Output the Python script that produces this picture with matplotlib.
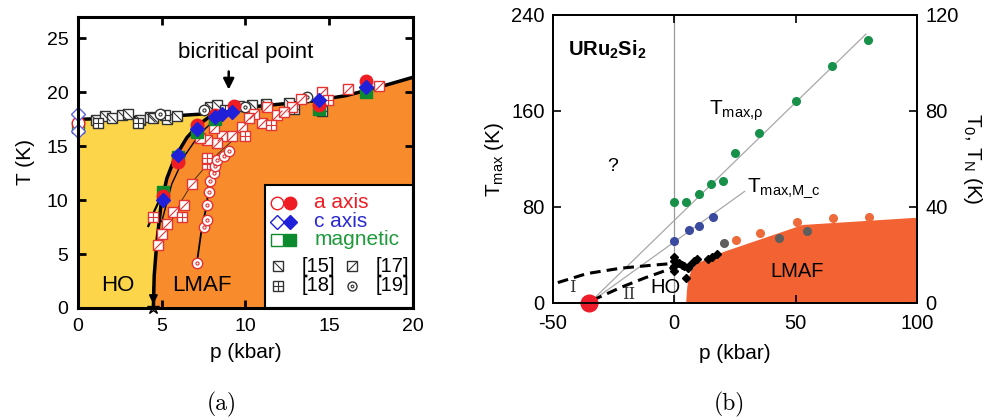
import numpy as np
import matplotlib.pyplot as plt
from matplotlib.patches import Rectangle

plt.rcParams['font.family'] = 'Liberation Sans'
plt.rcParams['mathtext.fontset'] = 'custom'
plt.rcParams['mathtext.rm'] = 'Liberation Sans'
plt.rcParams['mathtext.it'] = 'Liberation Sans:italic'
plt.rcParams['mathtext.bf'] = 'Liberation Sans:bold'
plt.rcParams['mathtext.default'] = 'regular'
plt.rcParams['axes.unicode_minus'] = False

# ---------------- panel (a) data ----------------
# phase boundaries
ho_line_p = [0, 2, 4, 6, 7.5, 8.5]
ho_line_T = [17.5, 17.6, 17.7, 17.85, 18.0, 18.3]
bound_p = [4.5, 4.55, 4.7, 4.95, 5.3, 5.8, 6.5, 7.2, 7.9, 8.5]
bound_T = [0, 3, 6, 9.5, 12, 14, 15.8, 17.0, 17.8, 18.3]
af_line_p = [8.5, 10, 12, 14, 16, 18, 20]
af_line_T = [18.3, 18.6, 18.9, 19.2, 19.7, 20.5, 21.4]
# extra guide curves
left_p = [4.2, 4.5, 4.8, 5.1]
left_T = [7.6, 8.8, 9.8, 10.6]
right_p = [5.0, 5.6, 6.4, 7.3, 8.2, 9.0]
right_T = [8.0, 11.5, 14.2, 16.2, 17.5, 18.3]
thin_p = [5.0, 5.5, 6.2, 7.0, 8.0, 9.2]
thin_T = [6.0, 7.8, 10.0, 12.0, 13.8, 15.5]
circ_p = [7.1, 7.4, 7.7, 7.8, 8.1, 8.6, 9.1]
circ_T = [4.2, 7.5, 9.6, 11.8, 13.2, 14.2, 14.8]

# literature points
r15_p = [1.1, 1.6, 2.0, 2.6, 3.0, 3.7, 4.3, 4.5, 5.3, 5.9, 7.9, 8.3, 9.6, 10.4, 11.2, 12.6, 14.5]
r15_T = [17.4, 17.8, 17.6, 17.9, 18.0, 17.4, 17.7, 17.6, 17.5, 17.8, 18.6, 18.8, 18.7, 18.8, 18.9, 19.0, 18.4]
r18k_p = [1.2, 3.6, 5.2, 8.8, 12.9, 14.6]
r18k_T = [17.2, 17.2, 17.9, 18.4, 18.5, 18.3]
r19k_p = [4.9, 7.5, 10.0, 13.7]
r19k_T = [18.0, 18.4, 18.6, 19.6]
r17_p = [14.6, 16.1, 18.0, 13.3, 12.8, 11.9, 11.3, 11.0, 10.5, 9.8, 9.2, 8.6, 8.3, 7.7, 7.3,
         8.1, 6.8, 6.3, 5.7, 5.3, 5.0, 4.8, 5.9, 10.2, 12.3]
r17_T = [20.0, 20.3, 20.6, 19.4, 18.6, 17.9, 18.6, 17.2, 18.0, 16.8, 16.0, 16.0, 15.3, 15.6, 15.8,
         16.7, 11.5, 9.6, 8.9, 7.8, 6.9, 5.8, 13.6, 17.6, 18.2]
r18_p = [4.5, 6.2, 7.7, 7.7, 10.0, 14.9, 11.5]
r18_T = [8.4, 8.4, 13.4, 13.9, 16.0, 19.3, 17.0]
r19_p = [7.1, 7.5, 7.7, 7.7, 7.8, 7.9, 8.1, 8.2, 8.3, 8.7, 9.0]
r19_T = [4.2, 7.5, 8.2, 9.6, 10.8, 11.8, 12.5, 13.2, 13.7, 14.1, 14.6]

a_fill_p = [5.1, 6.0, 7.1, 8.2, 9.3, 14.4, 17.2]
a_fill_T = [10.4, 13.5, 17.0, 17.9, 18.7, 18.8, 21.1]
a_open_p, a_open_T = [0], [17.2]
c_fill_p = [5.1, 6.0, 7.1, 8.2, 8.6, 9.2, 14.4, 17.2]
c_fill_T = [10.0, 14.2, 16.6, 17.7, 18.0, 18.2, 19.3, 20.5]
c_open_p, c_open_T = [0, 0], [18.0, 16.4]
m_fill_p = [5.1, 6.0, 7.1, 8.2, 14.4, 17.2]
m_fill_T = [10.8, 14.0, 16.3, 17.5, 18.5, 20.0]
m_open_p, m_open_T = [0], [16.8]

# ---------------- panel (b) data ----------------
rho_p = [0, 5, 10, 15, 20, 25, 35, 50, 65, 80]
rho_T = [84, 84, 91, 99, 102, 125, 142, 168, 197, 219]
mc_p = [0, 6, 10, 16]
mc_T = [52, 61, 64, 72]
orn_p = [25.4, 35.3, 50.5, 65.4, 80.2]
orn_T = [52.5, 58, 67.5, 70.5, 72]
gry_p = [20.5, 43.2, 54.6]
gry_T = [50, 54, 60]
t0_p = [0, 0, 0, 0, 1, 2, 3, 4, 5, 5.5, 6.5, 8, 9.5, 14, 15.5, 17.5]
t0_T = [38, 35, 31, 27, 33, 33, 32, 31, 21, 29, 32, 35, 37, 37, 38, 41]
fit_rho_p, fit_rho_T = [-35, 79], [0, 224]
fit_mc_p, fit_mc_T = [-35, 29], [0, 93]
dash1_p = [-48, -36, -22, -9, 0]
dash1_T = [17, 24.5, 29, 31.5, 33]
dash2_p = [-34, -22, -12, -5, 0]
dash2_T = [2, 13, 21, 26, 30]
lmaf_p = [4.9, 5.2, 5.7, 7, 9.3, 13, 16, 21, 53, 100]
lmaf_T = [0, 10, 19, 27, 33, 36, 39, 43, 65, 71]
qcp_p, qcp_T = [-35], [0]

HO_YEL = '#FDD54B'
AF_OR = '#F88B2C'
LMAF_B = '#F26232'
RED = '#F01C24'
BLUE = '#2020D8'
GREEN = '#0E8A2E'
HRED = '#E23434'

DIAG_DN = [(-1, 1), (1, -1)]
DIAG_UP = [(-1, -1), (1, 1)]


def marks(ax, p, T, kind, ec, ms=7, z=4, **kw):
    base = 'o' if kind == 'dot' else 's'
    ax.plot(p, T, ls='none', marker=base, ms=ms, mfc='white', mec=ec, mew=1.0, zorder=z, **kw)
    if kind == 'dot':
        ax.plot(p, T, ls='none', marker='o', ms=ms * 0.3, mfc='none', mec=ec, mew=0.8, zorder=z, **kw)
    else:
        inner = {'bs': DIAG_DN, 'fs': DIAG_UP, 'grid': '+'}[kind]
        ax.plot(p, T, ls='none', marker=inner, ms=ms, mfc='none', mec=ec, mew=0.8, zorder=z, **kw)


fig = plt.figure(figsize=(9.85, 4.17), dpi=100)
axa = fig.add_axes([0.0792, 0.2614, 0.340, 0.698])
axb = fig.add_axes([0.5614, 0.2734, 0.3695, 0.691])

# ---------------- panel (a) ----------------
axa.fill([0] + bound_p + ho_line_p[::-1], [0] + bound_T + ho_line_T[::-1], color=HO_YEL, lw=0, zorder=0)
axa.fill(bound_p + af_line_p + [20], bound_T + af_line_T + [0], color=AF_OR, lw=0, zorder=0)
axa.plot(ho_line_p, ho_line_T, color='k', lw=2.5, zorder=2)
axa.plot(af_line_p, af_line_T, color='k', lw=2.5, zorder=2)
axa.plot(bound_p, bound_T, color='k', lw=2.5, zorder=2)
axa.plot(left_p, left_T, color='k', lw=1.6, zorder=2)
axa.plot(right_p, right_T, color='k', lw=1.0, zorder=2)
axa.plot(thin_p, thin_T, color='#4a3010', lw=0.7, zorder=2)
axa.plot(circ_p, circ_T, color='k', lw=1.3, zorder=2)

marks(axa, r15_p, r15_T, 'bs', '#333333')
marks(axa, r18k_p, r18k_T, 'grid', '#333333')
marks(axa, r19k_p, r19k_T, 'dot', '#333333', ms=7.5)
marks(axa, r17_p, r17_T, 'fs', HRED)
marks(axa, r18_p, r18_T, 'grid', HRED)
marks(axa, r19_p, r19_T, 'dot', HRED, ms=7.5)

axa.plot(m_fill_p, m_fill_T, 's', ms=8, color=GREEN, zorder=5)
axa.plot(a_fill_p, a_fill_T, 'o', ms=9, color=RED, zorder=6)
axa.plot(c_fill_p, c_fill_T, 'D', ms=7, color=BLUE, zorder=7)
axa.plot(m_open_p, m_open_T, 's', ms=8, mfc='white', mec=GREEN, mew=1, zorder=5, clip_on=False)
axa.plot(a_open_p, a_open_T, 'o', ms=9, mfc='white', mec=RED, mew=1, zorder=6, clip_on=False)
axa.plot(c_open_p, c_open_T, 'D', ms=7, mfc='white', mec='#6060E0', mew=1, zorder=7, clip_on=False)

axa.annotate('', xy=(9.0, 20.0), xytext=(9.0, 22.2),
             arrowprops=dict(arrowstyle='-|>', color='k', lw=1.8, mutation_scale=16))
axa.text(10.0, 23.7, 'bicritical point', ha='center', va='center', fontsize=16)
axa.annotate('', xy=(4.5, 0.1), xytext=(4.5, 2.2),
             arrowprops=dict(arrowstyle='-|>', color='k', lw=1.5, mutation_scale=12))
axa.plot([4.5], [0], marker='*', ms=9, mfc='none', mec='k', mew=1, clip_on=False, zorder=8)
axa.text(2.4, 2.1, 'HO', ha='center', va='center', fontsize=16)
axa.text(7.4, 2.1, 'LMAF', ha='center', va='center', fontsize=16)

# hand-built legend box
axa.add_patch(Rectangle((0.558, 0), 0.442, 0.423, transform=axa.transAxes,
                        fc='white', ec='k', lw=1.5, zorder=9))
tr = dict(transform=axa.transAxes, clip_on=False, zorder=10)
rows = [(0.361, 'o', 9, RED, 'a axis', RED),
        (0.296, 'D', 7, BLUE, 'c axis', '#2A2AD0'),
        (0.234, 's', 8, GREEN, 'magnetic', '#1E9A3A')]
for yy, mk, ms, col, lab, tcol in rows:
    axa.plot([0.594], [yy], marker=mk, ms=ms, mfc='white', mec=col, mew=1, **tr)
    axa.plot([0.633], [yy], marker=mk, ms=ms, color=col, **tr)
    axa.text(0.705, yy, lab, color=tcol, fontsize=15, va='center', transform=axa.transAxes, zorder=10)
for xx, yy, kind, lab in [(0.597, 0.144, 'bs', '[15]'), (0.818, 0.144, 'fs', '[17]'),
                          (0.597, 0.076, 'grid', '[18]'), (0.818, 0.076, 'dot', '[19]')]:
    marks(axa, [xx], [yy], kind, '#333333', ms=6.5, z=10, transform=axa.transAxes, clip_on=False)
    axa.text(xx + 0.072, yy, lab, fontsize=14.5, va='center', transform=axa.transAxes, zorder=10)

axa.set_xlim(0, 20)
axa.set_ylim(0, 27)
axa.set_xticks([0, 5, 10, 15, 20])
axa.set_yticks([0, 5, 10, 15, 20, 25])
axa.tick_params(direction='in', length=6, width=2, labelsize=14, top=True, right=True, pad=7)
for s in axa.spines.values():
    s.set_linewidth(2.2)
    s.set_zorder(11)
axa.set_xlabel('p (kbar)', fontsize=15, labelpad=6)
axa.set_ylabel('T (K)', fontsize=15, labelpad=8)

# ---------------- panel (b) ----------------
axb.fill(lmaf_p + [100], lmaf_T + [0], color=LMAF_B, lw=0, zorder=1)
axb.axvline(0, color='#9a9a9a', lw=0.9, zorder=1)
axb.plot(fit_rho_p, fit_rho_T, color='#a8a8a8', lw=0.9, zorder=2)
axb.plot(fit_mc_p, fit_mc_T, color='#a8a8a8', lw=0.9, zorder=2)
axb.plot(dash1_p, dash1_T, color='k', lw=2.2, ls=(0, (3.5, 2)), zorder=3)
axb.plot(dash2_p, dash2_T, color='k', lw=2.2, ls=(0, (3.5, 2)), zorder=3)
axb.plot(rho_p, rho_T, 'o', ms=5.5, color='#17904A', zorder=4)
axb.plot(mc_p, mc_T, 'o', ms=5.5, color='#3A4A9E', zorder=4)
axb.plot(orn_p, orn_T, 'o', ms=5.5, color='#EE6A3A', zorder=4)
axb.plot(gry_p, gry_T, 'o', ms=5.5, color='#5E5E5E', zorder=4)
axb.plot(t0_p, t0_T, 'D', ms=3.8, color='k', zorder=5)
axb.plot(qcp_p, qcp_T, 'o', ms=12, color='#EE1C2A', zorder=6, clip_on=False)

axb.text(-44, 211, r'$\mathbf{URu_2Si_2}$', fontsize=14.5, va='center')
axb.text(-25.5, 114, '?', fontsize=14, ha='center', va='center')
axb.text(14.5, 160, r'T$_{\mathregular{max{,}}\rho}$', fontsize=15, va='center')
axb.text(30, 96, r'T$_{\mathregular{max{,}M\_c}}$', fontsize=15, va='center')
axb.text(-42, 13, 'I', family='DejaVu Serif', fontsize=12, color='#333333', ha='center', va='center')
axb.text(-19, 7, 'II', family='DejaVu Serif', fontsize=12, color='#333333', ha='center', va='center')
axb.text(-3.5, 13, 'HO', fontsize=14.5, ha='center', va='center')
axb.text(50.5, 26, 'LMAF', fontsize=14.5, ha='center', va='center')

axb.set_xlim(-50, 100)
axb.set_ylim(0, 240)
axb.set_xticks([-50, 0, 50, 100])
axb.set_yticks([0, 80, 160, 240])
axb.tick_params(direction='in', length=6, width=1.2, labelsize=14.5, top=True)
axb.tick_params(axis='x', pad=8)
axb.tick_params(axis='y', pad=6)
axb.set_xlabel('p (kbar)', fontsize=15, labelpad=8)
axb.set_ylabel(r'T$_{\mathregular{max}}$ (K)', fontsize=15, labelpad=4)
ax2 = axb.twinx()
ax2.set_ylim(0, 120)
ax2.set_yticks([0, 40, 80, 120])
ax2.tick_params(direction='in', length=6, width=1.2, labelsize=14.5, pad=6)
ax2.set_ylabel(r'T$_0$, T$_N$ (K)', fontsize=15, rotation=270, labelpad=18)
for a in (axb, ax2):
    for s in a.spines.values():
        s.set_linewidth(1.3)

fig.text(0.2254, 0.029, '(a)', family='cmr10', fontsize=17, ha='center', va='center')
fig.text(0.741, 0.029, '(b)', family='cmr10', fontsize=17, ha='center', va='center')

fig.savefig('out.png', dpi=100)
